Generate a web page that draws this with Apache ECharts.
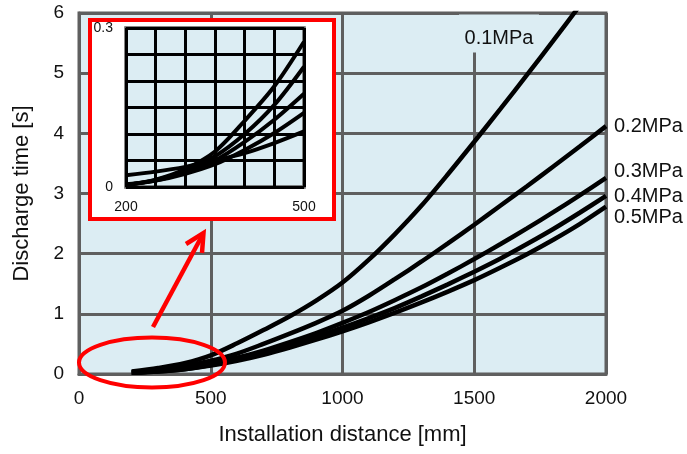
<!DOCTYPE html>
<html>
<head>
<meta charset="utf-8">
<script src="https://cdn.jsdelivr.net/npm/echarts@6/dist/echarts.min.js"></script>
<style>
html,body{margin:0;padding:0;background:#fff;}
#c{width:687px;height:454px;}
</style>
</head>
<body>
<div id="c"></div>
<script>
// ---- data ----
const xValues = [200,300,400,500,600,700,800,900,1000,1100,1200,1300,1400,1500,1600,1700,1800,1900,2000];
const p01 = [0.04,0.1,0.18,0.31,0.51,0.73,0.96,1.22,1.52,1.9,2.33,2.8,3.32,3.86,4.41,4.97,5.54,6.12,null];
const p02 = [0.03,0.07,0.13,0.22,0.34,0.5,0.67,0.85,1.05,1.3,1.58,1.87,2.17,2.48,2.8,3.12,3.45,3.78,4.12];
const p03 = [0.02,0.05,0.1,0.17,0.27,0.39,0.53,0.68,0.85,1.03,1.23,1.44,1.67,1.91,2.16,2.42,2.69,2.97,3.26];
const p04 = [0.02,0.04,0.08,0.15,0.24,0.35,0.48,0.62,0.77,0.93,1.1,1.29,1.49,1.7,1.92,2.16,2.41,2.68,2.96];
const p05 = [0.02,0.04,0.08,0.14,0.22,0.32,0.44,0.57,0.71,0.86,1.02,1.19,1.37,1.56,1.77,1.99,2.23,2.49,2.78];
const seriesNames = ['0.1MPa','0.2MPa','0.3MPa','0.4MPa','0.5MPa'];

const insetX = [200,250,300,350,400,450,500];
const insetA = [0.004,0.014,0.034,0.067,0.125,0.19,0.274];
const insetB = [0.004,0.013,0.031,0.058,0.1,0.155,0.227];
const insetC = [0.004,0.012,0.028,0.05,0.085,0.127,0.176];
const insetD = [0.005,0.012,0.025,0.043,0.07,0.102,0.14];
const insetE = [0.022,0.029,0.038,0.05,0.064,0.083,0.105];

const xTicks = {min:0, max:2000, interval:500};
const yTicks = {min:0, max:6, interval:1};
const insetXTicks = {min:200, max:500, interval:50, shown:[200,500]};
const insetYTicks = {min:0, max:0.3, interval:0.05, shown:[0,0.3]};

// ---- styling ----
const FONT = "'Liberation Sans', Arial, sans-serif";
const GRIDC = '#5f5f5f';
const BG = '#dcedf3';
const TXT = '#111';

function pairs(xs, ys){ return xs.map((x,i)=>[x, ys[i]]); }

const mainData = [p01,p02,p03,p04,p05];
const endOffsets = [[0,0],[0,0],[0,-6],[0,1],[0,11]];

const series = mainData.map((d,i)=>({
  name: seriesNames[i],
  type: 'line',
  xAxisIndex: 0, yAxisIndex: 0,
  data: pairs(xValues, d),
  smooth: 0.3,
  showSymbol: false,
  symbol: 'none',
  clip: true,
  z: 2,
  lineStyle: {color:'#000', width:4.5},
  endLabel: i === 0 ? {show:false} : {
    show: true,
    formatter: '{a}',
    color: TXT,
    fontFamily: FONT,
    fontSize: 20,
    distance: 8,
    offset: endOffsets[i]
  },
  markPoint: i === 0 ? {
    symbol: 'rect',
    symbolSize: [80, 38],
    itemStyle: {color: BG},
    silent: true,
    z: 3,
    label: {show:true, formatter: seriesNames[0], color: TXT, fontFamily: FONT, fontSize: 20, offset:[0,5]},
    data: [{coord:[1594, 5.66]}]
  } : undefined
}));

[insetA,insetB,insetC,insetD,insetE].forEach(d=>{
  series.push({
    type:'line', xAxisIndex:1, yAxisIndex:1,
    data: pairs(insetX, d),
    smooth: 0.3, showSymbol:false, symbol:'none',
    z: 6,
    lineStyle:{color:'#000', width:4}
  });
});

const option = {
  animation: false,
  backgroundColor: '#fff',
  textStyle: {fontFamily: FONT},
  grid: [
    {left:79, right:81, top:13, bottom:80, show:true, backgroundColor:BG, borderColor:GRIDC, borderWidth:3, z:0},
    {left:126, top:28, width:178, height:159, show:true, backgroundColor:BG, borderColor:GRIDC, borderWidth:3.5, z:4}
  ],
  xAxis: [
    {type:'value', gridIndex:0, min:xTicks.min, max:xTicks.max, interval:xTicks.interval,
     name:'Installation distance [mm]', nameLocation:'middle', nameGap:50,
     nameTextStyle:{fontSize:22, color:TXT, fontFamily:FONT},
     axisLine:{show:true, lineStyle:{color:GRIDC, width:3}},
     axisTick:{show:false},
     axisLabel:{fontSize:19, color:TXT, margin:15, fontFamily:FONT, formatter: v => String(v)},
     splitLine:{show:true, lineStyle:{color:GRIDC, width:3}}},
    {type:'value', gridIndex:1, min:insetXTicks.min, max:insetXTicks.max, interval:insetXTicks.interval, z:5,
     axisLine:{show:false}, axisTick:{show:false},
     axisLabel:{fontSize:14, color:TXT, margin:13, fontFamily:FONT,
       formatter: v => insetXTicks.shown.includes(v) ? String(v) : ''},
     splitLine:{show:true, lineStyle:{color:'#000', width:3}}}
  ],
  yAxis: [
    {type:'value', gridIndex:0, min:yTicks.min, max:yTicks.max, interval:yTicks.interval,
     name:'Discharge time [s]', nameLocation:'middle', nameGap:46,
     nameTextStyle:{fontSize:22, color:TXT, fontFamily:FONT},
     axisLine:{show:true, lineStyle:{color:GRIDC, width:3}},
     axisTick:{show:false},
     axisLabel:{fontSize:19, color:TXT, margin:15, fontFamily:FONT},
     splitLine:{show:true, lineStyle:{color:GRIDC, width:3}}},
    {type:'value', gridIndex:1, min:insetYTicks.min, max:insetYTicks.max, interval:insetYTicks.interval, z:5,
     axisLine:{show:false}, axisTick:{show:false},
     axisLabel:{fontSize:14, color:TXT, margin:13, fontFamily:FONT,
       formatter: v => insetYTicks.shown.some(s=>Math.abs(s-v)<1e-9) ? String(+v.toFixed(2)) : ''},
     splitLine:{show:true, lineStyle:{color:'#000', width:3}}}
  ],
  graphic: [
    {type:'rect', z:3, shape:{x:90, y:20, width:244, height:199}, style:{fill:'#fff', stroke:'#ff0000', lineWidth:4}},
    {type:'ellipse', z:10, shape:{cx:152, cy:362.5, rx:73, ry:25}, style:{fill:null, stroke:'#ff0000', lineWidth:4}},
    {type:'polyline', z:10, shape:{points:[[153,327],[203,234]]}, style:{stroke:'#ff0000', lineWidth:4.5, fill:null}},
    {type:'polyline', z:10, shape:{points:[[186,244],[203.5,233],[202,253]]}, style:{stroke:'#ff0000', lineWidth:4.5, fill:null, lineJoin:'miter'}}
  ],
  series: series
};

const chart = echarts.init(document.getElementById('c'), null, {renderer:'canvas'});
chart.setOption(option);
</script>
</body>
</html>
